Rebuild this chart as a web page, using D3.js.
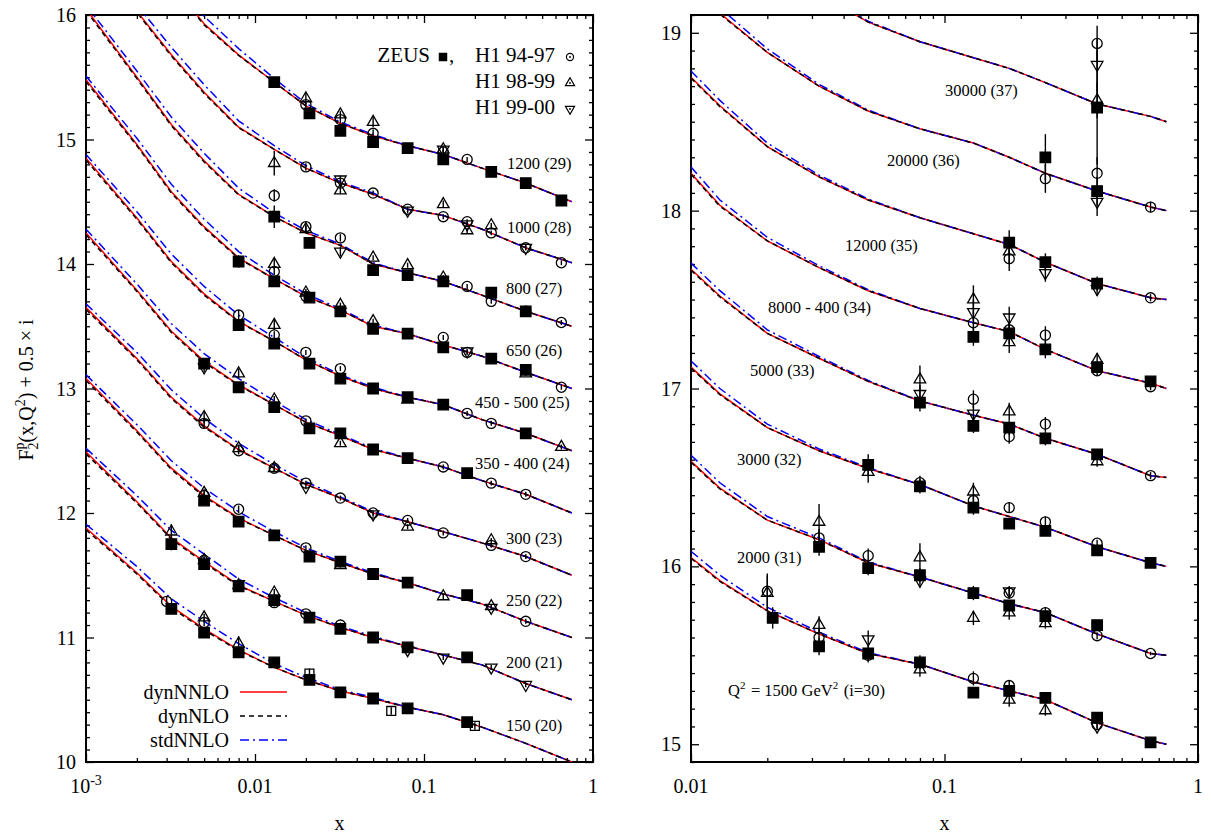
<!DOCTYPE html>
<html>
<head>
<meta charset="utf-8">
<script src="https://cdn.jsdelivr.net/npm/d3@7"></script>
<style>
body { margin: 0; background: #fff; }
text { font-family: "Liberation Serif", "Times New Roman", serif; fill: #000; }
</style>
</head>
<body>
<svg id="chart" width="1211" height="837"></svg>
<script>
// Q2 bins, plotted as F2 + 0.5*i
const LEFT_BINS = [20, 21, 22, 23, 24, 25, 26, 27, 28, 29];
const RIGHT_BINS = [30, 31, 32, 33, 34, 35, 36, 37];

const LEFT_BIN_LABELS = ["150 (20)", "200 (21)", "250 (22)", "300 (23)", "350 - 400 (24)",
    "450 - 500 (25)", "650 (26)", "800 (27)", "1000 (28)", "1200 (29)"];
const RIGHT_BIN_LABELS = ["Q^2 = 1500 GeV^2 (i=30)", "2000 (31)", "3000 (32)", "5000 (33)",
    "8000 - 400 (34)", "12000 (35)", "20000 (36)", "30000 (37)"];

// x grid of the theory curves
const LEFT_X = [0.001, 0.002, 0.0032, 0.005, 0.008, 0.013, 0.02, 0.032, 0.05, 0.08, 0.13, 0.22, 0.4, 0.75];
const RIGHT_X = [0.01, 0.013, 0.02, 0.032, 0.05, 0.08, 0.13, 0.18, 0.25, 0.4, 0.65, 0.75];

// dynNNLO F2 per bin (same order as the bins)
const DYN_NNLO_LEFT = [
    [1.88, 1.52, 1.25, 1.07, 0.90, 0.76, 0.66, 0.57, 0.51, 0.44, 0.38, 0.28, 0.15, 0.0],
    [1.99, 1.59, 1.30, 1.11, 0.92, 0.79, 0.68, 0.58, 0.50, 0.43, 0.36, 0.28, 0.13, 0.0],
    [2.08, 1.66, 1.36, 1.14, 0.96, 0.82, 0.70, 0.60, 0.51, 0.44, 0.35, 0.27, 0.13, 0.0],
    [2.15, 1.74, 1.43, 1.20, 1.01, 0.86, 0.73, 0.62, 0.50, 0.43, 0.35, 0.26, 0.15, 0.0],
    [2.25, 1.79, 1.46, 1.22, 1.03, 0.87, 0.73, 0.62, 0.51, 0.44, 0.37, 0.26, 0.15, 0.0],
    [2.35, 1.87, 1.52, 1.26, 1.04, 0.88, 0.73, 0.60, 0.50, 0.43, 0.37, 0.25, 0.14, 0.0],
    [2.48, 1.96, 1.58, 1.30, 1.05, 0.88, 0.74, 0.63, 0.50, 0.44, 0.35, 0.26, 0.13, 0.0],
    [2.55, 2.00, 1.62, 1.33, 1.06, 0.88, 0.75, 0.65, 0.50, 0.43, 0.36, 0.25, 0.12, 0.0],
    [2.70, 2.03, 1.68, 1.38, 1.10, 0.92, 0.77, 0.65, 0.56, 0.44, 0.39, 0.28, 0.13, 0.01],
    [2.80, 2.10, 1.75, 1.43, 1.18, 0.96, 0.77, 0.63, 0.53, 0.45, 0.38, 0.27, 0.15, 0.0]
];
const DYN_NNLO_RIGHT = [
    [1.05, 0.92, 0.75, 0.62, 0.51, 0.45, 0.35, 0.30, 0.25, 0.12, 0.02, 0.0],
    [1.09, 0.94, 0.76, 0.65, 0.52, 0.44, 0.35, 0.29, 0.24, 0.12, 0.01, 0.0],
    [1.12, 0.97, 0.78, 0.65, 0.55, 0.46, 0.34, 0.28, 0.22, 0.11, 0.02, 0.0],
    [1.17, 1.02, 0.81, 0.67, 0.54, 0.43, 0.35, 0.30, 0.22, 0.13, 0.01, 0.0],
    [1.21, 1.03, 0.83, 0.68, 0.55, 0.45, 0.37, 0.32, 0.22, 0.10, 0.03, 0.0],
    [1.25, 1.09, 0.86, 0.69, 0.56, 0.46, 0.37, 0.31, 0.21, 0.09, 0.01, 0.0],
    [1.30, 1.11, 0.89, 0.70, 0.56, 0.46, 0.38, 0.30, 0.21, 0.11, 0.02, 0.0],
    [1.35, 1.15, 0.90, 0.72, 0.56, 0.45, 0.36, 0.30, 0.22, 0.10, 0.03, 0.0]
];
// how far stdNNLO and dynNLO sit from dynNNLO at each grid x
const STD_SHIFT_LEFT = [0.03, 0.05, 0.06, 0.06, 0.05, 0.03, 0.02, 0.01, 0.01, 0, 0, 0, 0, 0];
const NLO_SHIFT_LEFT = [-0.015, -0.01, -0.01, -0.01, -0.005, 0, 0, 0, 0, 0, 0, 0, 0, 0];
const STD_SHIFT_RIGHT = [0.035, 0.03, 0.02, 0.01, 0.005, 0, 0, 0, 0, 0, 0, 0];
const NLO_SHIFT_RIGHT = [-0.005, -0.005, 0, 0, 0, 0, 0, 0, 0, 0, 0, 0];

// data: [bin, x, F2, error]
const ZEUS = [
    [20,0.0032,1.23,0.04],[20,0.005,1.04,0.03],[20,0.008,0.88,0.03],[20,0.013,0.80,0.02],[20,0.021,0.66,0.02],
    [20,0.032,0.56,0.02],[20,0.05,0.51,0.02],[20,0.08,0.43,0.02],[20,0.18,0.32,0.02],
    [21,0.0032,1.25,0.05],[21,0.005,1.09,0.03],[21,0.008,0.91,0.03],[21,0.013,0.80,0.02],[21,0.021,0.66,0.02],
    [21,0.032,0.57,0.02],[21,0.05,0.50,0.02],[21,0.08,0.42,0.02],[21,0.18,0.34,0.02],
    [22,0.005,1.10,0.03],[22,0.008,0.93,0.03],[22,0.013,0.82,0.02],[22,0.021,0.65,0.02],[22,0.032,0.61,0.02],
    [22,0.05,0.51,0.02],[22,0.08,0.44,0.02],[22,0.18,0.34,0.02],
    [24,0.005,1.20,0.04],[24,0.008,1.01,0.03],[24,0.013,0.85,0.03],[24,0.021,0.68,0.02],[24,0.032,0.64,0.02],
    [24,0.05,0.51,0.02],[24,0.08,0.44,0.02],[24,0.18,0.32,0.02],
    [25,0.008,1.01,0.04],[25,0.013,0.86,0.03],[25,0.021,0.70,0.02],[25,0.032,0.58,0.02],[25,0.05,0.50,0.02],
    [25,0.08,0.43,0.02],[25,0.13,0.37,0.02],[25,0.4,0.14,0.02],
    [26,0.008,1.02,0.05],[26,0.013,0.86,0.03],[26,0.021,0.73,0.02],[26,0.032,0.62,0.02],[26,0.05,0.48,0.02],
    [26,0.08,0.44,0.02],[26,0.13,0.33,0.02],[26,0.25,0.24,0.02],[26,0.4,0.15,0.02],
    [27,0.013,0.88,0.09],[27,0.021,0.67,0.03],[27,0.05,0.45,0.02],[27,0.08,0.41,0.02],[27,0.13,0.36,0.02],
    [27,0.25,0.27,0.02],[27,0.4,0.12,0.02],
    [29,0.013,0.96,0.04],[29,0.021,0.71,0.03],[29,0.032,0.57,0.02],[29,0.05,0.48,0.03],[29,0.08,0.43,0.02],
    [29,0.13,0.34,0.02],[29,0.25,0.24,0.02],[29,0.4,0.15,0.02],[29,0.65,0.01,0.02],
    [30,0.021,0.71,0.06],[30,0.032,0.55,0.05],[30,0.05,0.51,0.04],[30,0.08,0.46,0.04],[30,0.13,0.29,0.03],
    [30,0.18,0.30,0.03],[30,0.25,0.26,0.03],[30,0.4,0.15,0.02],[30,0.65,0.01,0.01],
    [31,0.032,0.61,0.05],[31,0.05,0.49,0.04],[31,0.08,0.45,0.04],[31,0.13,0.35,0.04],[31,0.18,0.28,0.03],
    [31,0.25,0.22,0.03],[31,0.4,0.17,0.02],
    [32,0.05,0.57,0.06],[32,0.08,0.45,0.04],[32,0.13,0.33,0.04],[32,0.18,0.24,0.03],[32,0.25,0.20,0.03],
    [32,0.4,0.09,0.02],[32,0.65,0.02,0.01],
    [33,0.08,0.42,0.05],[33,0.13,0.29,0.04],[33,0.18,0.28,0.04],[33,0.25,0.22,0.04],[33,0.4,0.13,0.03],
    [34,0.13,0.29,0.05],[34,0.18,0.31,0.06],[34,0.25,0.22,0.05],[34,0.4,0.12,0.03],[34,0.65,0.04,0.02],
    [35,0.18,0.32,0.07],[35,0.25,0.21,0.05],[35,0.4,0.09,0.04],
    [36,0.25,0.30,0.13],[36,0.4,0.11,0.08],
    [37,0.4,0.08,0.32]
];
const H1_9497 = [
    [20,0.003,1.29,0.04],[20,0.005,1.12,0.03],
    [21,0.005,1.12,0.03],[21,0.013,0.78,0.03],[21,0.02,0.69,0.02],[21,0.032,0.60,0.02],
    [22,0.005,1.14,0.03],[22,0.008,1.03,0.03],[22,0.013,0.82,0.02],[22,0.02,0.72,0.02],[22,0.05,0.51,0.02],[22,0.4,0.13,0.02],
    [23,0.005,1.22,0.04],[23,0.008,1.00,0.03],[23,0.013,0.86,0.03],[23,0.02,0.74,0.02],[23,0.032,0.62,0.02],
    [23,0.05,0.50,0.02],[23,0.08,0.44,0.02],[23,0.13,0.34,0.02],[23,0.25,0.24,0.02],[23,0.4,0.15,0.02],
    [24,0.02,0.74,0.02],[24,0.13,0.37,0.02],[24,0.25,0.24,0.02],[24,0.4,0.15,0.02],
    [25,0.008,1.09,0.04],[25,0.013,0.93,0.03],[25,0.02,0.79,0.02],[25,0.032,0.66,0.02],[25,0.18,0.30,0.02],[25,0.25,0.22,0.02],
    [26,0.013,0.94,0.03],[26,0.02,0.74,0.02],[26,0.13,0.41,0.02],[26,0.18,0.29,0.02],[26,0.65,0.01,0.02],
    [27,0.02,0.80,0.03],[27,0.032,0.71,0.03],[27,0.18,0.32,0.02],[27,0.25,0.20,0.02],[27,0.4,0.12,0.02],[27,0.65,0.03,0.02],
    [28,0.013,0.55,0.05],[28,0.02,0.78,0.03],[28,0.032,0.65,0.03],[28,0.05,0.57,0.02],[28,0.08,0.44,0.02],
    [28,0.13,0.38,0.02],[28,0.18,0.34,0.02],[28,0.25,0.25,0.02],[28,0.4,0.13,0.02],[28,0.65,0.01,0.02],
    [29,0.02,0.78,0.03],[29,0.032,0.66,0.03],[29,0.05,0.55,0.03],[29,0.13,0.40,0.02],[29,0.18,0.34,0.02],
    [30,0.02,0.86,0.10],[30,0.032,0.60,0.05],[30,0.05,0.50,0.04],[30,0.13,0.37,0.04],[30,0.18,0.33,0.03],[30,0.4,0.11,0.02],
    [31,0.032,0.66,0.05],[31,0.05,0.56,0.04],[31,0.18,0.35,0.03],[31,0.25,0.24,0.03],[31,0.4,0.11,0.02],[31,0.65,0.01,0.01],
    [32,0.08,0.47,0.04],[32,0.13,0.37,0.04],[32,0.18,0.33,0.03],[32,0.25,0.25,0.03],[32,0.4,0.13,0.02],
    [33,0.13,0.44,0.05],[33,0.18,0.23,0.04],[33,0.25,0.30,0.04],[33,0.65,0.01,0.02],
    [34,0.13,0.37,0.06],[34,0.18,0.33,0.05],[34,0.25,0.30,0.05],[34,0.4,0.10,0.03],[34,0.65,0.01,0.02],
    [35,0.18,0.23,0.07],[35,0.65,0.01,0.02],
    [36,0.25,0.18,0.08],[36,0.4,0.21,0.09],[36,0.65,0.02,0.03],
    [37,0.4,0.44,0.10]
];
const H1_9899 = [
    [20,0.005,1.16,0.03],[20,0.008,0.95,0.06],
    [21,0.0032,1.35,0.06],[21,0.005,1.12,0.03],[21,0.008,0.92,0.03],[21,0.013,0.86,0.03],
    [22,0.005,1.16,0.03],[22,0.032,0.58,0.02],[22,0.13,0.33,0.02],[22,0.25,0.25,0.02],
    [23,0.005,1.27,0.05],[23,0.008,1.02,0.03],[23,0.013,0.86,0.03],[23,0.08,0.39,0.02],[23,0.25,0.28,0.02],
    [24,0.008,1.12,0.04],[24,0.013,0.91,0.03],[24,0.032,0.56,0.02],
    [25,0.013,1.01,0.04],[25,0.08,0.41,0.02],[25,0.65,0.03,0.02],
    [26,0.013,1.00,0.04],[26,0.02,0.77,0.03],[26,0.032,0.67,0.02],[26,0.05,0.54,0.02],[26,0.4,0.12,0.02],
    [27,0.02,0.78,0.03],[27,0.05,0.55,0.02],[27,0.08,0.49,0.02],[27,0.13,0.39,0.02],
    [28,0.013,0.81,0.10],[28,0.032,0.59,0.03],[28,0.13,0.48,0.03],[28,0.18,0.27,0.02],[28,0.25,0.31,0.02],
    [29,0.02,0.83,0.05],[29,0.032,0.70,0.03],[29,0.05,0.64,0.04],[29,0.13,0.42,0.02],
    [30,0.02,0.85,0.10],[30,0.032,0.67,0.05],[30,0.08,0.42,0.04],[30,0.18,0.25,0.04],[30,0.25,0.19,0.03],
    [31,0.032,0.75,0.10],[31,0.08,0.55,0.08],[31,0.13,0.21,0.04],[31,0.18,0.24,0.04],[31,0.25,0.18,0.03],
    [32,0.05,0.53,0.06],[32,0.13,0.42,0.05],
    [33,0.08,0.55,0.08],[33,0.18,0.37,0.05],[33,0.4,0.09,0.03],
    [34,0.13,0.50,0.08],[34,0.18,0.26,0.06],[34,0.4,0.16,0.04],
    [35,0.18,0.27,0.07],
    [37,0.4,0.12,0.10]
];
const H1_9900 = [
    [21,0.008,0.93,0.03],[21,0.08,0.40,0.02],[21,0.13,0.34,0.02],[21,0.25,0.26,0.02],[21,0.4,0.12,0.02],
    [22,0.25,0.24,0.02],
    [23,0.02,0.71,0.02],[23,0.05,0.49,0.02],
    [24,0.005,1.17,0.04],
    [26,0.18,0.30,0.02],
    [27,0.032,0.60,0.04],
    [28,0.032,0.68,0.03],[28,0.08,0.43,0.02],[28,0.18,0.32,0.02],[28,0.4,0.13,0.02],
    [29,0.13,0.42,0.02],
    [30,0.05,0.59,0.05],[30,0.4,0.10,0.02],
    [31,0.08,0.42,0.04],[31,0.18,0.36,0.03],
    [33,0.08,0.47,0.05],[33,0.13,0.36,0.05],
    [34,0.13,0.43,0.07],[34,0.18,0.40,0.06],
    [35,0.25,0.15,0.05],[35,0.4,0.06,0.04],
    [36,0.4,0.05,0.08],
    [37,0.4,0.32,0.15]
];
const OPEN_SQUARES = [[20,0.021,0.71,0.04],[20,0.032,0.56,0.02],[20,0.064,0.41,0.03],[20,0.2,0.29,0.03]];

const LEFT_XTICKS = [0.001, 0.01, 0.1, 1];
const LEFT_XTICK_LABELS = ["10^-3", "0.01", "0.1", "1"];
const RIGHT_XTICKS = [0.01, 0.1, 1];
const RIGHT_XTICK_LABELS = ["0.01", "0.1", "1"];
const LEFT_YTICKS = [10, 11, 12, 13, 14, 15, 16];
const RIGHT_YTICKS = [15, 16, 17, 18, 19];

const LEGEND_CURVES = ["dynNNLO", "dynNLO", "stdNNLO"];

// layout
const LEFT_LABEL_POS = [[506,725],[506,662],[506,600],[506,538],[475,463],[475,402],[506,350],[506,288],[507,227],[507,163]];
const RIGHT_LABEL_POS = [[728,690],[737,557],[737,459],[750,370],[768,307],[845,245],[887,160],[945,90]];

const svg = d3.select("#chart");
const TOP = 15, BOTTOM = 762;

const panels = [
    {
        x: d3.scaleLog().domain([1e-3, 1]).range([86, 593]),
        y: d3.scaleLinear().domain([10, 16]).range([BOTTOM, TOP]),
        gridX: LEFT_X, bins: LEFT_BINS, nnlo: DYN_NNLO_LEFT, std: STD_SHIFT_LEFT, nlo: NLO_SHIFT_LEFT,
        xTicks: LEFT_XTICKS, xLabels: LEFT_XTICK_LABELS, yTicks: LEFT_YTICKS,
        labels: LEFT_BIN_LABELS, labelPos: LEFT_LABEL_POS, id: "L"
    },
    {
        x: d3.scaleLog().domain([0.01, 1]).range([691, 1198]),
        y: d3.scaleLinear().domain([14.9, 19.1]).range([BOTTOM, TOP]),
        gridX: RIGHT_X, bins: RIGHT_BINS, nnlo: DYN_NNLO_RIGHT, std: STD_SHIFT_RIGHT, nlo: NLO_SHIFT_RIGHT,
        xTicks: RIGHT_XTICKS, xLabels: RIGHT_XTICK_LABELS, yTicks: RIGHT_YTICKS,
        labels: RIGHT_BIN_LABELS, labelPos: RIGHT_LABEL_POS, id: "R"
    }
];

// text with ^ superscripts, e.g. "Q^2 = 1500 GeV^2 (i=30)"
function richText(sel, str, supSize) {
    const parts = str.split(/(\^-?\d+)/);
    parts.forEach(function(s) {
        if (s.startsWith("^")) {
            sel.append("tspan").attr("dy", -7).attr("font-size", supSize).text(s.slice(1));
            sel.append("tspan").attr("dy", 7).text("\u200a");
        } else if (s.length) {
            sel.append("tspan").text(s);
        }
    });
}

function drawAxes(p) {
    const g = svg.append("g");
    const x0 = p.x.range()[0], x1 = p.x.range()[1];
    const minorX = p.x.ticks().filter(v => !p.xTicks.some(t => Math.abs(v / t - 1) < 1e-6));
    const minorY = p.y.ticks(50).filter(v => Math.abs(v - Math.round(v)) > 1e-6);

    const axes = [
        [d3.axisBottom, p.x, `translate(0,${BOTTOM})`, p.xTicks, minorX],
        [d3.axisTop, p.x, `translate(0,${TOP})`, p.xTicks, minorX],
        [d3.axisLeft, p.y, `translate(${x0},0)`, p.yTicks, minorY],
        [d3.axisRight, p.y, `translate(${x1},0)`, p.yTicks, minorY]
    ];
    axes.forEach(function(a) {
        g.append("g").attr("transform", a[2])
            .call(a[0](a[1]).tickValues(a[3]).tickSize(-8).tickFormat(""));
        g.append("g").attr("transform", a[2])
            .call(a[0](a[1]).tickValues(a[4]).tickSize(-4).tickFormat(""));
    });
    g.selectAll(".domain").remove();
    g.selectAll(".tick line").attr("stroke", "#000").attr("stroke-width", 1.3);

    g.append("rect")
        .attr("x", x0).attr("y", TOP)
        .attr("width", x1 - x0).attr("height", BOTTOM - TOP)
        .attr("fill", "none").attr("stroke", "#000").attr("stroke-width", 2);

    // tick labels
    p.yTicks.forEach(function(v) {
        g.append("text")
            .attr("x", x0 - 10).attr("y", p.y(v)).attr("dy", "0.35em")
            .attr("text-anchor", "end").attr("font-size", 20)
            .text(v);
    });
    p.xTicks.forEach(function(v, i) {
        const t = g.append("text")
            .attr("x", p.x(v)).attr("y", 786).attr("dy", "0.35em")
            .attr("text-anchor", "middle").attr("font-size", 20);
        const lab = p.xLabels[i];
        if (lab.indexOf("^") >= 0) {
            const s = lab.split("^");
            t.append("tspan").text(s[0]);
            t.append("tspan").attr("dy", -8).attr("font-size", 14).text(s[1]);
        } else {
            t.text(lab);
        }
    });
    g.append("text")
        .attr("x", (x0 + x1) / 2).attr("y", 823).attr("dy", "0.35em")
        .attr("text-anchor", "middle").attr("font-size", 20)
        .text("x");
}

function drawCurves(p) {
    const clipId = "clip" + p.id;
    svg.append("clipPath").attr("id", clipId)
        .append("rect")
        .attr("x", p.x.range()[0]).attr("y", TOP)
        .attr("width", p.x.range()[1] - p.x.range()[0]).attr("height", BOTTOM - TOP);

    const g = svg.append("g").attr("clip-path", `url(#${clipId})`);
    const line = d3.line().x(d => p.x(d[0])).y(d => p.y(d[1]));

    p.bins.forEach(function(bin, b) {
        const off = 0.5 * bin;
        const red = p.gridX.map((x, k) => [x, p.nnlo[b][k] + off]);
        const blue = p.gridX.map((x, k) => [x, p.nnlo[b][k] + p.std[k] + off]);
        const black = p.gridX.map((x, k) => [x, p.nnlo[b][k] + p.nlo[k] + off]);

        g.append("path").attr("d", line(red))
            .attr("fill", "none").attr("stroke", "#ff0000").attr("stroke-width", 1.5);
        g.append("path").attr("d", line(blue))
            .attr("fill", "none").attr("stroke", "#0000ff").attr("stroke-width", 1.5)
            .attr("stroke-dasharray", "9,4,2,4");
        g.append("path").attr("d", line(black))
            .attr("fill", "none").attr("stroke", "#000").attr("stroke-width", 1.5)
            .attr("stroke-dasharray", "5,4");
    });

    p.labels.forEach(function(lab, i) {
        const t = svg.append("text")
            .attr("x", p.labelPos[i][0]).attr("y", p.labelPos[i][1]).attr("dy", "0.35em")
            .attr("font-size", 16.5);
        richText(t, lab, 11);
    });
}

const symSquare = d3.symbol().type(d3.symbolSquare).size(110);
const symOpenSquare = d3.symbol().type(d3.symbolSquare).size(80);
const symCircle = d3.symbol().type(d3.symbolCircle).size(80);
const symTri = d3.symbol().type(d3.symbolTriangle).size(58);

function drawData(data, symbolPath, filled, rotate) {
    data.forEach(function(d) {
        const p = d[0] >= 30 ? panels[1] : panels[0];
        const off = 0.5 * d[0];
        const cx = p.x(d[1]), cy = p.y(d[2] + off);
        svg.append("line")
            .attr("x1", cx).attr("x2", cx)
            .attr("y1", p.y(d[2] + off - d[3])).attr("y2", p.y(d[2] + off + d[3]))
            .attr("stroke", "#000").attr("stroke-width", 1.4);
        svg.append("path")
            .attr("d", symbolPath())
            .attr("transform", `translate(${cx},${cy})` + (rotate ? " rotate(180)" : ""))
            .attr("fill", filled ? "#000" : "none")
            .attr("stroke", "#000").attr("stroke-width", 1.3);
    });
}

panels.forEach(drawAxes);
panels.forEach(drawCurves);

drawData(OPEN_SQUARES, symOpenSquare, false, false);
drawData(H1_9497, symCircle, false, false);
drawData(H1_9899, symTri, false, false);
drawData(H1_9900, symTri, false, true);
drawData(ZEUS, symSquare, true, false);

// y axis title
const yt = svg.append("text")
    .attr("transform", "translate(33,390) rotate(-90)")
    .attr("text-anchor", "middle").attr("font-size", 20);
yt.append("tspan").text("F");
yt.append("tspan").attr("dy", 5).attr("font-size", 14).text("2");
yt.append("tspan").attr("dx", -7).attr("dy", -14).attr("font-size", 14).text("p");
yt.append("tspan").attr("dy", 9).text("(x,Q");
yt.append("tspan").attr("dy", -8).attr("font-size", 14).text("2");
yt.append("tspan").attr("dy", 8).text(") + 0.5 \u00d7 i");

// legend of the theory curves (bottom left)
const curveStyles = [
    { stroke: "#ff0000", dash: null },
    { stroke: "#000", dash: "5,4" },
    { stroke: "#0000ff", dash: "9,4,2,4" }
];
LEGEND_CURVES.forEach(function(name, i) {
    const y = 692 + i * 24;
    svg.append("text")
        .attr("x", 229).attr("y", y).attr("dy", "0.35em")
        .attr("text-anchor", "end").attr("font-size", 20)
        .text(name);
    svg.append("line")
        .attr("x1", 240).attr("x2", 287).attr("y1", y).attr("y2", y)
        .attr("stroke", curveStyles[i].stroke).attr("stroke-width", 1.5)
        .attr("stroke-dasharray", curveStyles[i].dash);
});

// legend of the data sets (top of left panel)
const lg = svg.append("g");
lg.append("text").attr("x", 430).attr("y", 55).attr("dy", "0.35em")
    .attr("text-anchor", "end").attr("font-size", 21).text("ZEUS");
lg.append("path").attr("d", d3.symbol().type(d3.symbolSquare).size(72)())
    .attr("transform", "translate(443,57)").attr("fill", "#000");
lg.append("text").attr("x", 449).attr("y", 55).attr("dy", "0.35em")
    .attr("font-size", 21).text(",");
const h1Names = ["H1 94-97", "H1 98-99", "H1 99-00"];
h1Names.forEach(function(name, i) {
    const y = 55 + i * 26;
    lg.append("text").attr("x", 475).attr("y", y).attr("dy", "0.35em")
        .attr("font-size", 21).text(name);
    const sym = i === 0 ? d3.symbol().type(d3.symbolCircle).size(40)
                        : d3.symbol().type(d3.symbolTriangle).size(36);
    lg.append("path").attr("d", sym())
        .attr("transform", `translate(570,${y + 2})` + (i === 2 ? " rotate(180)" : ""))
        .attr("fill", "none").attr("stroke", "#000").attr("stroke-width", 1.2);
    lg.append("circle").attr("cx", 570).attr("cy", y + 2).attr("r", 0.9).attr("fill", "#000");
});
</script>
</body>
</html>
